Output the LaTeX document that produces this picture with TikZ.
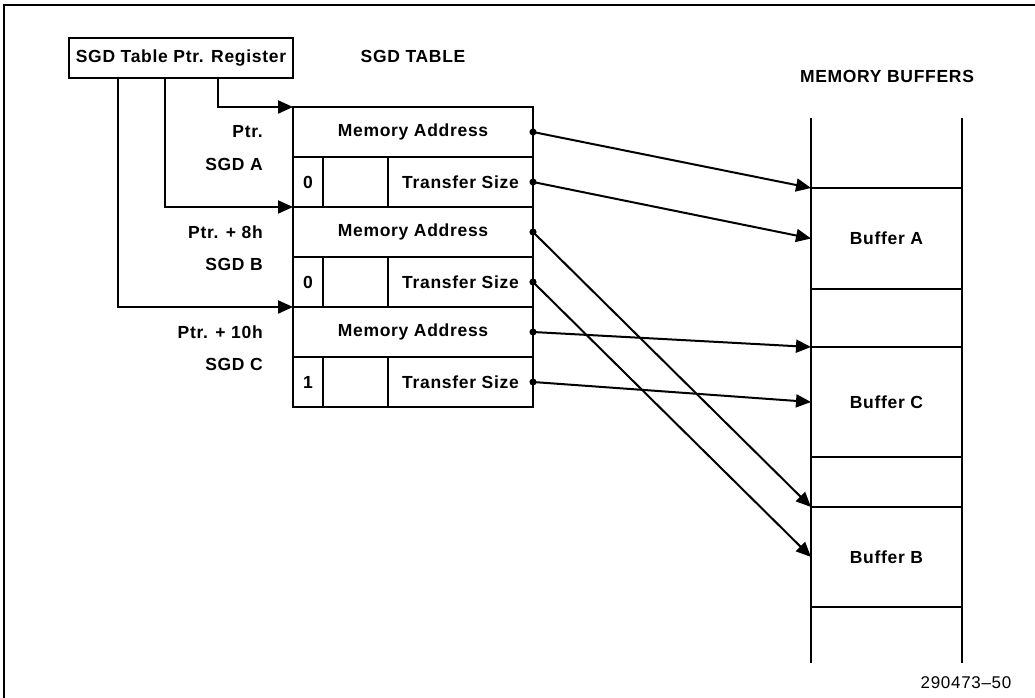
\documentclass[tikz,border=0pt]{standalone}
\usepackage{fontspec}
\setmainfont{Liberation Sans}[LetterSpace=4]
\usetikzlibrary{arrows.meta,positioning}
\tikzstyle{cell}=[
	rectangle,
	draw,
	line width=2pt,
	minimum height=50pt,
	inner sep=0pt,
	outer sep=0pt,
	font=\fontsize{17.5}{20}\selectfont\bfseries
]
\tikzstyle{regbox}=[
	cell,
	line width=2.2pt,
	minimum width=224pt,
	minimum height=40pt
]
\tikzstyle{buffer}=[
	cell,
	minimum width=151pt
]
\tikzstyle{label}=[
	inner sep=0pt,
	anchor=east,
	font=\fontsize{17.5}{20}\selectfont\bfseries
]
\tikzstyle{heading}=[
	inner sep=0pt,
	font=\fontsize{17.5}{20}\selectfont\bfseries
]
\tikzstyle{pointer}=[
	-{Triangle[length=15pt,width=13pt]},
	line width=2pt
]
\tikzstyle{link}=[
	{Circle[length=7pt]}-{Triangle[length=15pt,width=13pt]},
	shorten <=-3.5pt,
	line width=2pt
]

\begin{document}
\begin{tikzpicture}[x=1pt,y=-1pt]
\useasboundingbox (0,0) rectangle (1035,698);
\draw[line width=2.4pt] (4,698) |- (1035,5);

\node [regbox] (Register) at (181,58) {SGD Table Ptr. Register};
\node [heading] (TableHead) at (413,56) {SGD TABLE};
\node [heading] (BufferHead) at (887,76) {MEMORY BUFFERS};

\foreach \sgd/\ptr/\flag [count=\i from 0] in {A/Ptr./0, B/Ptr. + 8h/0, C/Ptr. + 10h/1}{
	\node [cell, minimum width=240pt, anchor=north west] (Addr\sgd) at (293,107+100*\i) {Memory Address};
	\node [cell, minimum width=30pt, anchor=north west] (Flag\sgd) at (Addr\sgd.south west) {\flag};
	\node [cell, minimum width=65pt, right=0pt of Flag\sgd] (Gap\sgd) {};
	\node [cell, minimum width=145pt, right=0pt of Gap\sgd] (Size\sgd) {Transfer Size};
	\node [label] (Ptr\sgd) [left=30pt of Addr\sgd] {\ptr};
	\node [label] (Name\sgd) at ([xshift=-30pt,yshift=-7pt]Addr\sgd.south west) {SGD \sgd};
}

\draw [pointer] ([xshift=37pt]Register.south) |- (AddrA.north west);
\draw [pointer] ([xshift=-16pt]Register.south) |- (AddrB.north west);
\draw [pointer] ([xshift=-63pt]Register.south) |- (AddrC.north west);

\node [buffer, minimum height=101pt] (BufA) at (886.5,238.5) {Buffer A};
\node [buffer, minimum height=110pt] (BufC) at (886.5,402) {Buffer C};
\node [buffer, minimum height=100pt] (BufB) at (886.5,557) {Buffer B};
\draw [line width=2pt] (811,118) -- (811,663) (962,118) -- (962,663);

\draw [link] (AddrA.east) -- (BufA.north west);
\draw [link] (SizeA.east) -- (BufA.west);
\draw [link] (AddrB.east) -- (BufB.north west);
\draw [link] (SizeB.east) -- (BufB.west);
\draw [link] (AddrC.east) -- (BufC.north west);
\draw [link] (SizeC.east) -- (BufC.west);

\node [inner sep=0pt, font=\fontsize{17}{20}\selectfont] (FigNum) at (966,683) {290473–50};
\end{tikzpicture}
\end{document}
